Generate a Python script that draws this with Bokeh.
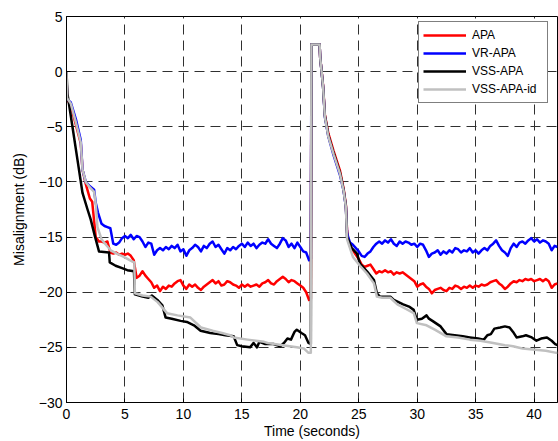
from bokeh.plotting import figure
from bokeh.models import Range1d, FixedTicker, Legend, LegendItem
from bokeh.embed import file_html
from bokeh.resources import INLINE

# ---------------- data ----------------
x_ticks = [0, 5, 10, 15, 20, 25, 30, 35, 40]
y_ticks = [-30, -25, -20, -15, -10, -5, 0, 5]

series_names = ["APA", "VR-APA", "VSS-APA", "VSS-APA-id"]

t_apa = [0, 0.05, 0.37, 0.8, 1.22, 1.37, 1.65, 2.0, 2.2, 2.5, 2.78,
         3.0, 3.25, 3.5, 3.75, 4.0, 4.25, 4.5, 4.75, 5.0, 5.25, 5.5, 5.75,
         6.0, 6.25, 6.5, 6.75, 7.0, 7.25, 7.5, 7.75, 8.0, 8.25, 8.5, 8.75,
         9.0, 9.25, 9.5, 9.75, 10.0, 10.25, 10.5, 10.75, 11.0, 11.25, 11.5, 11.75,
         12.0, 12.25, 12.5, 12.75, 13.0, 13.25, 13.5, 13.75, 14.0, 14.25, 14.5, 14.75,
         15.0, 15.25, 15.5, 15.75, 16.0, 16.25, 16.5, 16.75, 17.0, 17.25, 17.5, 17.75,
         18.0, 18.25, 18.5, 18.75, 19.0, 19.25, 19.5, 19.75, 20.0, 20.25, 20.5, 20.75, 20.9,
         20.95, 21.65, 21.7, 21.95, 22.1, 22.4, 22.85, 23.4, 23.7, 23.9, 24.0, 24.1,
         24.25, 24.5, 24.75, 25.0, 25.25, 25.5, 25.75, 26.0, 26.25, 26.5, 26.75,
         27.0, 27.25, 27.5, 27.75, 28.0, 28.25, 28.5, 28.75, 29.0, 29.25, 29.5, 29.75,
         30.0, 30.25, 30.5, 30.75, 31.0, 31.25, 31.5, 31.75, 32.0, 32.25, 32.5, 32.75,
         33.0, 33.25, 33.5, 33.75, 34.0, 34.25, 34.5, 34.75, 35.0, 35.25, 35.5, 35.75,
         36.0, 36.25, 36.5, 36.75, 37.0, 37.25, 37.5, 37.75, 38.0, 38.25, 38.5, 38.75,
         39.0, 39.25, 39.5, 39.75, 40.0, 40.25, 40.5, 40.75, 41.0, 41.25, 41.5, 41.75, 42.0]
y_apa = [0.0, -2.5, -3.1, -4.8, -6.5, -8.9, -10.2, -11.5, -11.8, -15.0, -15.4,
         -15.4, -15.5, -15.4, -16.4, -16.5, -16.4, -16.6, -16.5, -16.6, -16.5, -16.7, -17.1,
         -18.7, -18.5, -18.1, -18.5, -18.8, -19.1, -19.6, -19.4, -19.9, -19.5, -19.7, -19.4,
         -19.5, -19.2, -19.0, -18.9, -19.4, -19.7, -19.3, -19.5, -19.3, -19.6, -19.8, -19.5,
         -19.3, -19.1, -18.9, -19.2, -19.0, -19.4, -19.3, -19.0, -19.1, -19.3, -19.4, -19.6,
         -19.3, -19.5, -19.3, -19.5, -19.4, -19.3, -19.5, -19.2, -19.1, -18.9, -19.2, -19.3,
         -19.0, -18.8, -18.6, -18.8, -19.1, -18.9, -19.0, -19.2, -19.4, -19.6, -20.0, -20.7, -20.6,
         2.45, 2.45, 1.3, -1.3, -3.9, -5.6, -7.2, -9.0, -10.6, -12.1, -14.4, -15.2,
         -15.8, -16.2, -16.6, -17.0, -17.5, -17.7, -17.6, -17.5, -17.9, -18.3, -18.1,
         -18.2, -18.0, -18.2, -18.1, -18.4, -18.2, -18.3, -18.2, -18.4, -18.6, -18.8, -19.0,
         -19.5, -19.3, -19.2, -19.5, -19.7, -20.1, -19.8, -19.7, -19.6, -19.8, -19.9, -19.6,
         -19.7, -19.4, -19.5, -19.7, -19.5, -19.6, -19.4, -19.6, -19.4, -19.5, -19.3, -19.4,
         -19.3, -19.1, -19.0, -18.9, -19.2, -19.4, -19.7, -19.5, -19.2, -19.0, -19.1, -18.9,
         -19.0, -18.8, -18.9, -18.8, -19.0, -18.9, -18.8, -19.0, -18.8, -19.0, -19.6, -19.3, -19.2]

t_vr = [0, 0.05, 0.37, 0.8, 1.22, 1.37, 1.65, 2.0, 2.36, 2.5, 2.7,
        3.0, 3.25, 3.5, 3.75, 4.0, 4.25, 4.5, 4.75, 5.0, 5.25, 5.5, 5.75,
        6.0, 6.25, 6.5, 6.75, 7.0, 7.25, 7.5, 7.75, 8.0, 8.25, 8.5, 8.75,
        9.0, 9.25, 9.5, 9.75, 10.0, 10.25, 10.5, 10.75, 11.0, 11.25, 11.5, 11.75,
        12.0, 12.25, 12.5, 12.75, 13.0, 13.25, 13.5, 13.75, 14.0, 14.25, 14.5, 14.75,
        15.0, 15.25, 15.5, 15.75, 16.0, 16.25, 16.5, 16.75, 17.0, 17.25, 17.5, 17.75,
        18.0, 18.25, 18.5, 18.75, 19.0, 19.25, 19.5, 19.75, 20.0, 20.25, 20.5, 20.75, 20.9,
        20.95, 21.65, 21.7, 21.95, 22.1, 22.4, 22.85, 23.4, 23.7, 23.9, 24.0, 24.1,
        24.25, 24.5, 24.75, 25.0, 25.25, 25.5, 25.75, 26.0, 26.25, 26.5, 26.75,
        27.0, 27.25, 27.5, 27.75, 28.0, 28.25, 28.5, 28.75, 29.0, 29.25, 29.5, 29.75,
        30.0, 30.25, 30.5, 30.75, 31.0, 31.25, 31.5, 31.75, 32.0, 32.25, 32.5, 32.75,
        33.0, 33.25, 33.5, 33.75, 34.0, 34.25, 34.5, 34.75, 35.0, 35.25, 35.5, 35.75,
        36.0, 36.25, 36.5, 36.75, 37.0, 37.25, 37.5, 37.75, 38.0, 38.25, 38.5, 38.75,
        39.0, 39.25, 39.5, 39.75, 40.0, 40.25, 40.5, 40.75, 41.0, 41.25, 41.5, 41.75, 42.0]
y_vr = [0.0, -2.5, -2.8, -4.3, -6.2, -8.9, -10.0, -10.4, -10.7, -11.9, -12.8,
        -13.8, -14.0, -14.1, -14.2, -15.6, -15.7, -15.5, -15.1, -14.9, -15.1, -14.8, -15.2,
        -14.9, -15.0, -15.4, -15.9, -15.5, -15.6, -16.6, -16.2, -16.0, -16.2, -15.9, -16.1,
        -15.8, -16.0, -15.7, -16.3, -16.1, -16.7, -16.2, -16.0, -15.7, -15.9, -16.3, -15.8,
        -16.0, -15.6, -15.4, -15.9, -15.7, -16.1, -16.5, -16.0, -16.2, -15.9, -16.1, -15.8,
        -15.6, -15.9, -15.5, -15.8, -15.6, -16.0, -15.7, -15.5, -15.6, -15.2, -15.6, -15.8,
        -16.0, -15.6, -15.1, -15.3, -15.9, -15.6, -16.0, -15.5, -15.9, -16.3, -16.4, -17.1, -17.0,
        2.45, 2.45, 1.3, -1.4, -4.1, -5.9, -7.6, -9.4, -10.8, -12.3, -14.6, -15.0,
        -15.5, -15.7, -16.0, -16.3, -16.7, -16.8, -16.5, -16.3, -15.9, -15.6, -15.4,
        -15.6, -15.3, -15.5, -15.2, -15.6, -15.8, -15.4, -15.6, -15.4, -15.5, -15.7, -15.6,
        -15.9, -15.6, -15.7, -16.2, -16.8, -16.5, -16.4, -16.2, -16.6, -16.3, -16.5, -16.2,
        -16.4, -16.0, -16.1, -16.4, -16.2, -16.3, -16.0, -16.4, -16.2, -16.5, -16.2, -16.0,
        -16.2, -15.8, -15.6, -15.3, -15.8, -16.2, -16.4, -16.7, -16.0, -15.6, -15.9, -15.5,
        -15.4, -15.6, -15.3, -15.1, -15.4, -15.2, -15.5, -15.3, -15.4, -15.6, -16.2, -15.8, -15.9]

t_vss = [0, 0.08, 0.51, 0.94, 1.37, 1.8, 2.07, 2.4, 2.78, 3.64, 3.7, 4.2, 4.7, 5.2, 5.77,
         5.85, 6.5, 7.0, 7.3, 7.77, 8.2, 8.48, 9.0, 9.76, 10.3, 10.9, 11.47, 12.3, 13.0,
         13.6, 14.3, 14.6, 15.0, 15.7, 16.0, 16.3, 16.5, 17.0, 17.7, 18.3, 18.6, 18.9,
         19.2, 19.5, 19.7, 20.1, 20.4, 20.7, 20.9,
         20.95, 21.65, 21.7, 21.95, 22.1, 22.4, 22.85, 23.4, 23.7, 23.9, 24.0,
         24.4, 24.85, 25.1, 25.7, 26.3, 26.55, 26.8, 27.7, 28.0, 28.4, 28.8, 29.3, 29.7,
         29.97, 30.4, 30.8, 31.0, 31.3, 32.0, 32.5, 33.2, 33.9, 34.5, 35.2, 35.7, 36.0,
         36.3, 36.6, 37.1, 37.5, 37.9, 38.2, 38.5, 39.0, 39.3, 39.8, 40.2, 40.6, 41.1,
         41.5, 41.8, 42.0]
y_vss = [0.0, -2.0, -5.0, -8.0, -11.0, -12.5, -13.4, -14.8, -16.3, -16.4, -17.3, -17.6, -17.8, -18.0, -18.1,
         -20.2, -20.4, -20.5, -20.3, -20.7, -21.2, -22.3, -22.4, -22.6, -22.7, -23.0, -23.5, -23.7, -23.8,
         -23.9, -24.0, -24.8, -24.9, -25.0, -24.6, -25.0, -24.5, -24.7, -24.7, -24.9, -24.6, -24.2,
         -24.3, -23.6, -23.4, -23.7, -23.9, -24.6, -24.7,
         2.45, 2.45, 1.3, -1.4, -4.0, -5.8, -7.4, -9.2, -10.7, -12.2, -15.0,
         -16.0, -16.5, -17.4, -18.1, -18.9, -20.1, -20.4, -20.4, -20.7, -20.9, -21.1, -21.3, -21.6,
         -22.5, -22.4, -22.1, -22.4, -22.6, -23.1, -23.8, -23.9, -24.0, -24.1, -24.2, -24.3, -23.9,
         -23.8, -23.3, -23.2, -23.1, -23.2, -23.6, -24.1, -24.0, -23.9, -24.1, -24.4, -24.2, -24.1,
         -24.4, -24.7, -24.8]

t_id = [0, 0.05, 0.37, 0.8, 1.22, 1.37, 1.65, 2.0, 2.36, 2.5, 2.65, 3.0, 3.3, 3.78, 4.3,
        4.9, 5.6, 5.8, 5.85, 6.5, 7.2, 7.8, 8.6, 9.5, 10.6, 11.5, 12.5, 13.3, 14.0, 14.3,
        15.5, 16.9, 17.2, 18.5, 19.7, 20.3, 20.7, 20.9,
        20.95, 21.65, 21.7, 21.95, 22.1, 22.4, 22.85, 23.4, 23.7, 23.9, 24.0,
        24.5, 25.1, 25.7, 26.3, 26.55, 27.0, 27.7, 28.3, 29.0, 29.7, 29.97, 30.8, 31.5,
        32.5, 33.5, 34.5, 35.4, 36.5, 37.5, 38.2, 39.0, 39.9, 41.0, 41.9, 42.0]
y_id = [0.0, -2.4, -2.9, -4.6, -6.4, -8.9, -10.0, -10.5, -10.9, -12.0, -14.1, -15.2, -15.6, -16.2, -16.5,
        -16.8, -17.2, -17.3, -20.1, -20.3, -20.4, -20.9, -21.9, -22.1, -22.3, -23.2, -23.5, -23.7, -23.9, -24.1,
        -24.3, -24.5, -24.6, -24.8, -25.0, -25.1, -25.5, -25.5,
        2.45, 2.45, 1.3, -1.4, -4.1, -5.9, -7.5, -9.3, -10.8, -12.3, -15.2,
        -16.8, -17.6, -18.3, -19.2, -20.4, -20.5, -20.5, -21.1, -21.5, -21.9, -22.8, -23.0, -23.4,
        -24.0, -24.1, -24.3, -24.4, -24.6, -24.8, -24.9, -25.1, -25.2, -25.3, -25.5, -25.5]

series_t = [t_apa, t_vr, t_vss, t_id]
series_y = [y_apa, y_vr, y_vss, y_id]
series_colors = ["#ff0000", "#0000ff", "#000000", "#c0c0c0"]

# ---------------- figure ----------------
FONT = "Liberation Sans"

p = figure(width=558, height=441, output_backend="svg", toolbar_location=None,
           x_range=Range1d(0, 42), y_range=Range1d(-30, 5),
           min_border_left=66, min_border_right=1, min_border_top=16, min_border_bottom=38)

p.background_fill_color = "white"
p.border_fill_color = "white"
p.outline_line_color = "black"
p.outline_line_width = 1

p.xaxis.ticker = FixedTicker(ticks=x_ticks)
p.yaxis.ticker = FixedTicker(ticks=y_ticks)
p.xaxis.minor_tick_line_color = None
p.yaxis.minor_tick_line_color = None
for ax in (p.xaxis[0], p.yaxis[0]):
    ax.major_tick_in = 4
    ax.major_tick_out = 0
    ax.major_tick_line_color = "black"
    ax.axis_line_color = "black"
    ax.major_label_text_font = FONT
    ax.major_label_text_font_size = "14px"
    ax.major_label_text_color = "black"
    ax.axis_label_text_font = FONT
    ax.axis_label_text_font_size = "14px"
    ax.axis_label_text_font_style = "normal"
    ax.axis_label_text_color = "black"

p.xaxis.axis_label = "Time (seconds)"
p.yaxis.axis_label = "Misalignment (dB)"
p.xaxis.major_label_standoff = 6
p.xaxis.axis_label_standoff = 1
p.yaxis.major_label_standoff = 4
p.yaxis.axis_label_standoff = 9

for g in (p.xgrid[0], p.ygrid[0]):
    g.grid_line_color = "#303030"
    g.grid_line_dash = "10 6"
    g.grid_line_width = 1

items = []
for name, tt, yy, col in zip(series_names, series_t, series_y, series_colors):
    r = p.line(tt, yy, line_color=col, line_width=2.5, line_join="round")
    items.append(LegendItem(label=name, renderers=[r]))

legend = Legend(items=items, location=(352, 299), orientation="vertical",
                label_text_font=FONT, label_text_font_size="12px",
                label_text_color="black", glyph_width=43, glyph_height=18,
                label_height=18, label_width=71, label_standoff=6,
                padding=4, spacing=0, margin=0,
                border_line_color="black", border_line_width=1,
                background_fill_color="white", background_fill_alpha=1)
p.add_layout(legend, "center")

open("out.html", "w").write(file_html(p, INLINE))
